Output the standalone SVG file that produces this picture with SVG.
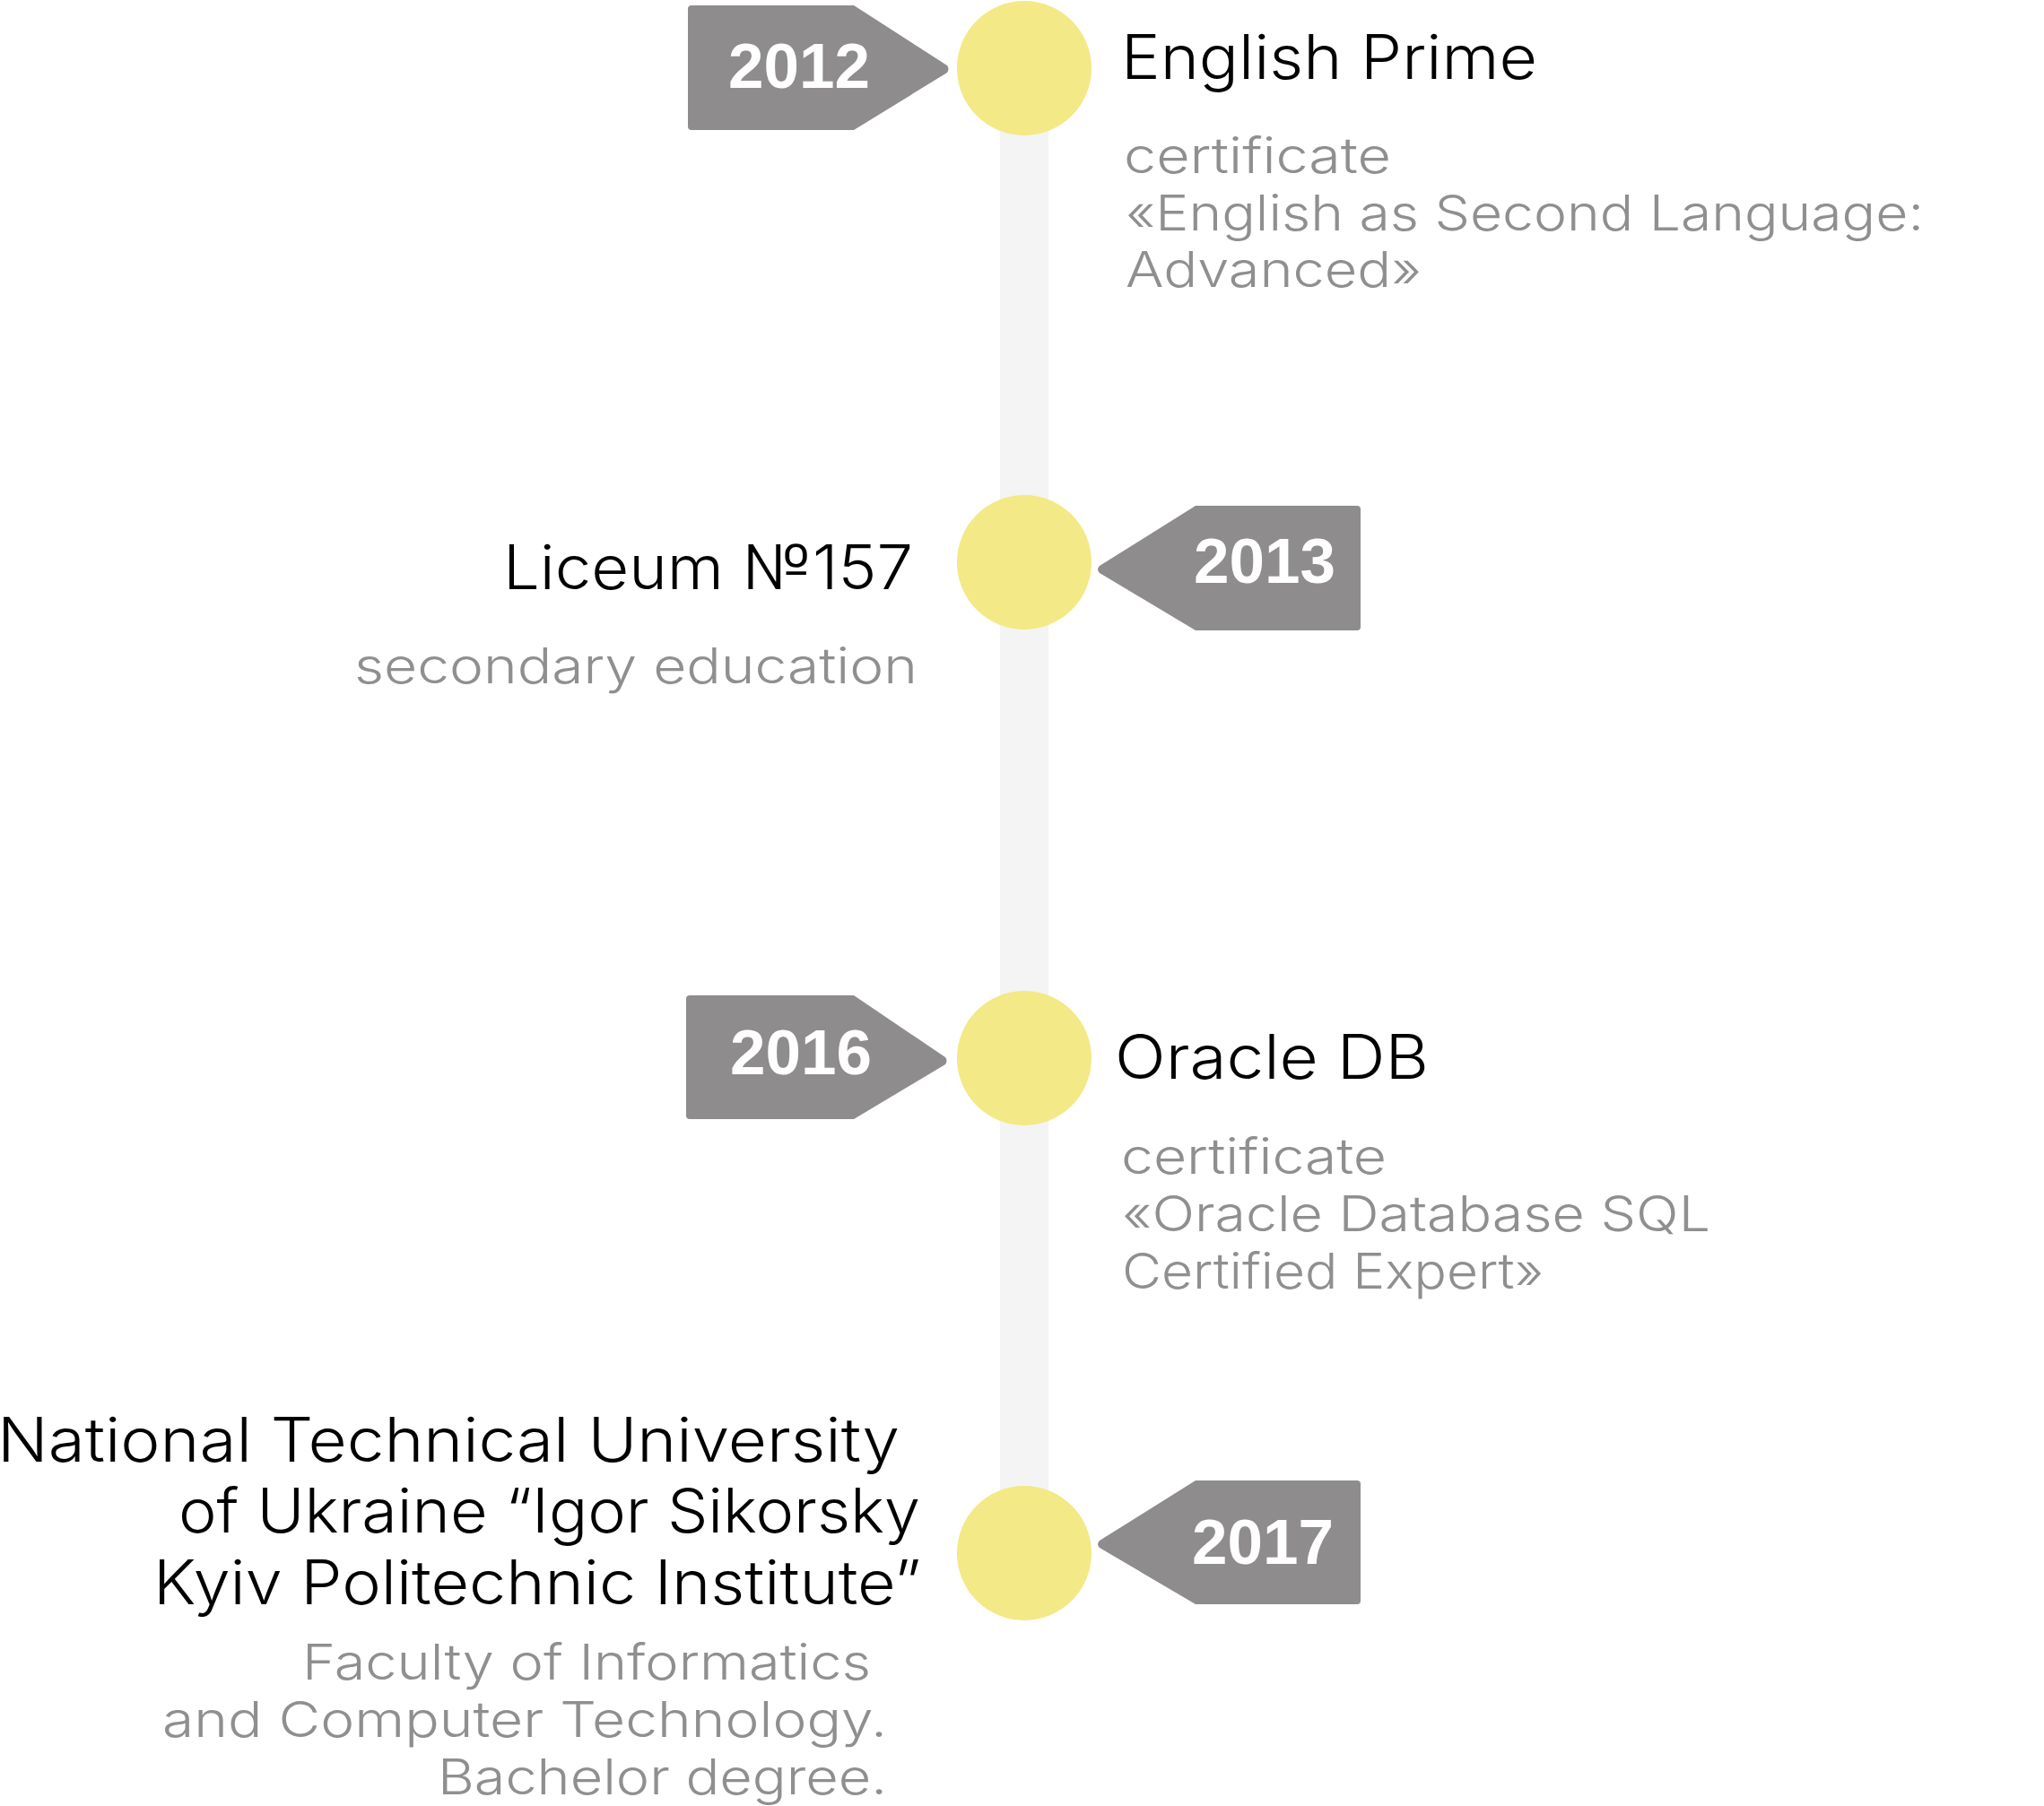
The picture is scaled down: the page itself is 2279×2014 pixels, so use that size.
<svg xmlns="http://www.w3.org/2000/svg" width="2279" height="2014" viewBox="0 0 2279 2014">
<style>
.tag{fill:#8e8c8d}
.dot{fill:#f3e986}
.yr{font-family:"Liberation Sans",Arial,sans-serif;font-weight:bold;font-size:71px;fill:#ffffff;text-anchor:middle}
.ttl{font-family:Inter,"Open Sans","Noto Sans",sans-serif;font-weight:300;font-size:68px;fill:#000000}
.sub{font-family:Inter,"Open Sans","Noto Sans",sans-serif;font-weight:300;font-size:55px;fill:#8f8f8f}
</style>
<rect width="2279" height="2014" fill="#ffffff"/>
<g id="connectors">
<rect x="1115" y="76" width="54" height="1656" fill="#f4f4f4"/>
</g>
<g id="node-2012">
<path class="tag" d="M771,6 H952 L1056,73 Q1059,77 1056,81 L952,145 H771 Q767,145 767,141 V10 Q767,6 771,6 Z"/>
<text class="yr" x="891" y="98">2012</text>
<circle class="dot" cx="1142" cy="76" r="75"/>
<text class="ttl" x="1250" y="88" textLength="464" lengthAdjust="spacingAndGlyphs">English Prime</text>
<text class="sub" x="1253" y="193" textLength="298" lengthAdjust="spacingAndGlyphs">certificate</text>
<text class="sub" x="1255" y="257" textLength="890" lengthAdjust="spacingAndGlyphs">«English as Second Language:</text>
<text class="sub" x="1255" y="320" textLength="330" lengthAdjust="spacingAndGlyphs">Advanced»</text>
</g>
<g id="node-2013">
<path class="tag" d="M1513,564 H1333 L1226,631 Q1222,635 1226,639 L1333,703 H1513 Q1517,703 1517,699 V568 Q1517,564 1513,564 Z"/>
<text class="yr" x="1410" y="650">2013</text>
<circle class="dot" cx="1142" cy="627" r="75"/>
<text class="ttl" x="561" y="657" textLength="457" lengthAdjust="spacingAndGlyphs">Liceum №157</text>
<text class="sub" x="395" y="762" textLength="628" lengthAdjust="spacingAndGlyphs">secondary education</text>
</g>
<g id="node-2016">
<path class="tag" d="M769,1110 H952 L1054,1179 Q1057,1183 1054,1187 L952,1248 H769 Q765,1248 765,1244 V1114 Q765,1110 769,1110 Z"/>
<text class="yr" x="893" y="1198">2016</text>
<circle class="dot" cx="1142" cy="1180" r="75"/>
<text class="ttl" x="1243" y="1203" textLength="350" lengthAdjust="spacingAndGlyphs">Oracle DB</text>
<text class="sub" x="1250" y="1309" textLength="296" lengthAdjust="spacingAndGlyphs">certificate</text>
<text class="sub" x="1251" y="1373" textLength="656" lengthAdjust="spacingAndGlyphs">«Oracle Database SQL</text>
<text class="sub" x="1251" y="1437" textLength="470" lengthAdjust="spacingAndGlyphs">Certified Expert»</text>
</g>
<g id="node-2017">
<path class="tag" d="M1513,1651 H1333 L1226,1718 Q1222,1722 1226,1726 L1333,1789 H1513 Q1517,1789 1517,1785 V1655 Q1517,1651 1513,1651 Z"/>
<text class="yr" x="1408" y="1744">2017</text>
<circle class="dot" cx="1142" cy="1732" r="75"/>
<text class="ttl" x="-3" y="1630" textLength="1006" lengthAdjust="spacingAndGlyphs">National Technical University</text>
<text class="ttl" x="199" y="1709" textLength="827" lengthAdjust="spacingAndGlyphs">of Ukraine “Igor Sikorsky</text>
<text class="ttl" x="171" y="1789" textLength="856" lengthAdjust="spacingAndGlyphs">Kyiv Politechnic Institute”</text>
<text class="sub" x="337" y="1873" textLength="634" lengthAdjust="spacingAndGlyphs">Faculty of Informatics</text>
<text class="sub" x="181" y="1937" textLength="808" lengthAdjust="spacingAndGlyphs">and Computer Technology.</text>
<text class="sub" x="488" y="2001" textLength="501" lengthAdjust="spacingAndGlyphs">Bachelor degree.</text>
</g>
</svg>
